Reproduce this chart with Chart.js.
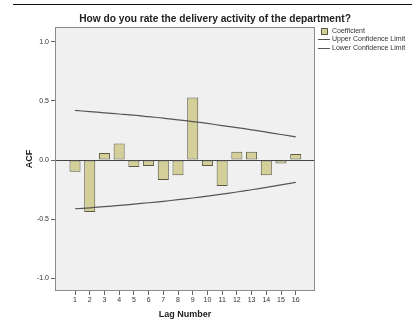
<!DOCTYPE html>
<html>
<head>
<meta charset="utf-8">
<script src="https://cdn.jsdelivr.net/npm/chart.js@4.4.1/dist/chart.umd.min.js"></script>
<style>
  html, body { margin: 0; padding: 0; background: #fff; }
  canvas { display: block; }
</style>
</head>
<body>
<canvas id="acfChart" width="414" height="329"></canvas>
<script>
// chart values
const lags = [1, 2, 3, 4, 5, 6, 7, 8, 9, 10, 11, 12, 13, 14, 15, 16];
const coefficient = [-0.10, -0.44, 0.06, 0.14, -0.06, -0.05, -0.17, -0.13, 0.53, -0.05, -0.22, 0.07, 0.07, -0.13, -0.03, 0.05];
const upperLimit = [0.42, 0.41, 0.40, 0.39, 0.38, 0.367, 0.355, 0.34, 0.326, 0.31, 0.292, 0.275, 0.256, 0.236, 0.216, 0.196];
const lowerLimit = [-0.413, -0.405, -0.395, -0.385, -0.374, -0.362, -0.35, -0.336, -0.322, -0.306, -0.289, -0.271, -0.252, -0.232, -0.211, -0.19];
const yTicks = [-1, -0.5, 0, 0.5, 1];

const titleText = 'How do you rate the delivery activity of the department?';
const legendItems = ['Coefficient', 'Upper Confidence Limit', 'Lower Confidence Limit'];

const barFill = '#d4cf98';
const barEdge = '#5b5a42';
const lineColor = '#555555';
const frameColor = '#8c8c8c';
const textColor = '#333333';
const fontFamily = '"Liberation Sans", Arial, sans-serif';

// frame, background, title, legend, top rule
const decorations = {
  id: 'decorations',
  beforeDraw(chart) {
    const { ctx, chartArea: a } = chart;
    ctx.save();
    ctx.fillStyle = '#f0f0f0';
    ctx.fillRect(a.left, a.top, a.right - a.left, a.bottom - a.top);

    // rule at the very top
    ctx.strokeStyle = '#111';
    ctx.lineWidth = 1;
    ctx.beginPath();
    ctx.moveTo(13, 4.5);
    ctx.lineTo(412, 4.5);
    ctx.stroke();

    // title
    ctx.fillStyle = '#222';
    ctx.font = 'bold 10.2px ' + fontFamily;
    ctx.textAlign = 'center';
    ctx.textBaseline = 'middle';
    ctx.fillText(titleText, 215, 19);

    // legend
    ctx.font = '7px ' + fontFamily;
    ctx.textAlign = 'left';
    ctx.fillStyle = barFill;
    ctx.fillRect(322, 29, 5, 5);
    ctx.strokeStyle = barEdge;
    ctx.strokeRect(321.5, 28.5, 6, 6);
    ctx.strokeStyle = lineColor;
    [39.5, 48.5].forEach(y => {
      ctx.beginPath();
      ctx.moveTo(318, y);
      ctx.lineTo(330, y);
      ctx.stroke();
    });
    ctx.fillStyle = textColor;
    ctx.fillText(legendItems[0], 332, 31.5);
    ctx.fillText(legendItems[1], 332, 39.5);
    ctx.fillText(legendItems[2], 332, 48.5);
    ctx.restore();
  },
  afterDraw(chart) {
    const { ctx, chartArea: a } = chart;
    ctx.save();
    ctx.strokeStyle = frameColor;
    ctx.lineWidth = 1;
    ctx.strokeRect(Math.round(a.left) + 0.5, Math.round(a.top) + 0.5,
      Math.round(a.right - a.left) - 1, Math.round(a.bottom - a.top) - 1);
    ctx.restore();
  }
};

const canvas = document.getElementById('acfChart');
new Chart(canvas, {
  type: 'bar',
  data: {
    datasets: [
      {
        type: 'line',
        label: legendItems[1],
        data: lags.map((l, i) => ({ x: l, y: upperLimit[i] })),
        borderColor: lineColor,
        borderWidth: 1.2,
        pointRadius: 0,
        tension: 0.3,
        order: 0
      },
      {
        type: 'line',
        label: legendItems[2],
        data: lags.map((l, i) => ({ x: l, y: lowerLimit[i] })),
        borderColor: lineColor,
        borderWidth: 1.2,
        pointRadius: 0,
        tension: 0.3,
        order: 0
      },
      {
        label: legendItems[0],
        data: lags.map((l, i) => ({ x: l, y: coefficient[i] })),
        backgroundColor: barFill,
        borderColor: barEdge,
        borderWidth: 1,
        borderSkipped: false,
        categoryPercentage: 1,
        barPercentage: 0.75,
        order: 1
      }
    ]
  },
  options: {
    responsive: false,
    animation: false,
    layout: { padding: { left: 0, right: 99, top: 27, bottom: 0 } },
    plugins: {
      legend: { display: false },
      title: { display: false },
      tooltip: { enabled: false }
    },
    scales: {
      x: {
        type: 'linear',
        offset: false,
        min: -0.36,
        max: 17.31,
        afterBuildTicks: axis => { axis.ticks = lags.map(v => ({ value: v })); },
        afterFit: axis => { axis.height = 38; },
        grid: { offset: false, drawOnChartArea: false, drawTicks: true, tickLength: 4, tickColor: '#666' },
        border: { display: false },
        ticks: {
          autoSkip: false,
          maxRotation: 0,
          padding: 1,
          color: textColor,
          font: { family: fontFamily, size: 7 }
        },
        title: {
          display: true,
          text: 'Lag Number',
          color: '#222',
          padding: { top: 0, bottom: 9 },
          font: { family: fontFamily, size: 9, weight: 'bold' }
        }
      },
      y: {
        min: -1.11,
        max: 1.127,
        afterBuildTicks: axis => { axis.ticks = yTicks.map(v => ({ value: v })); },
        afterFit: axis => { axis.width = 55; },
        grid: {
          drawOnChartArea: true,
          drawTicks: true,
          tickLength: 4,
          tickColor: '#666',
          color: c => (c.tick && c.tick.value === 0 ? '#444' : 'rgba(0,0,0,0)'),
          lineWidth: 1
        },
        border: { display: false },
        ticks: {
          padding: 2,
          color: textColor,
          font: { family: fontFamily, size: 7 },
          callback: v => v.toFixed(1)
        },
        title: {
          display: true,
          text: 'ACF',
          color: '#222',
          padding: { top: 24, bottom: 0 },
          font: { family: fontFamily, size: 9, weight: 'bold' }
        }
      }
    }
  },
  plugins: [decorations]
});
</script>
</body>
</html>
